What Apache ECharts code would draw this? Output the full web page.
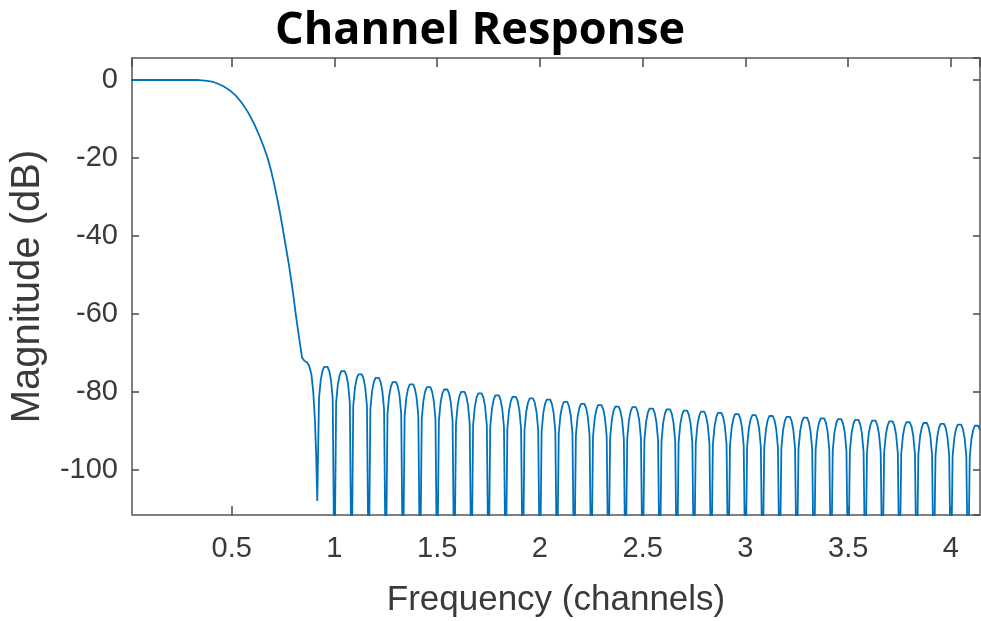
<!DOCTYPE html>
<html>
<head>
<meta charset="utf-8">
<script src="https://cdn.jsdelivr.net/npm/echarts@6/dist/echarts.min.js"></script>
<style>
html,body{margin:0;padding:0;background:#fff;}
#chart{width:981px;height:621px;}
</style>
</head>
<body>
<div id="chart"></div>
<script>
// ---- Data ----
const titleText = 'Channel Response';
const xName = 'Frequency (channels)';
const yName = 'Magnitude (dB)';

// Main lobe (passband + transition), explicit points
const mainFreq = [0, 0.34, 0.38, 0.41, 0.43, 0.46, 0.49, 0.52, 0.55, 0.58, 0.61, 0.635, 0.655, 0.675, 0.692, 0.708, 0.722, 0.735, 0.746, 0.756, 0.778, 0.797, 0.813, 0.829, 0.843, 0.855, 0.866, 0.877, 0.888, 0.897, 0.905, 0.911];
const mainMag  = [0, 0, -0.2, -0.5, -0.9, -1.6, -2.6, -4.0, -5.9, -8.3, -11.3, -14.3, -17.0, -20.0, -23.3, -26.9, -30.5, -34.0, -37.3, -40.4, -47.2, -54.0, -60.5, -66.5, -71.3, -72.1, -72.4, -73.3, -75.5, -80.0, -87.0, -96.0];

// Stopband sidelobes, sampled every 1/120 channel starting at 11/12 channel
const sideStart = 11 / 12;
const sideStep = 1 / 120;
const sideMag = [
  -108, -81.7, -77.0, -74.7, -73.6, -73.2, -73.6, -74.7, -77.0, -81.7,
  -130, -82.8, -78.1, -75.8, -74.7, -74.3, -74.7, -75.8, -78.1, -82.8,
  -130, -83.6, -78.9, -76.6, -75.5, -75.1, -75.5, -76.6, -78.9, -83.6,
  -130, -84.5, -79.8, -77.5, -76.4, -76.0, -76.4, -77.5, -79.8, -84.5,
  -130, -85.6, -80.9, -78.6, -77.5, -77.1, -77.5, -78.6, -80.9, -85.6,
  -130, -86.2, -81.5, -79.2, -78.1, -77.7, -78.1, -79.2, -81.5, -86.2,
  -130, -86.9, -82.2, -79.9, -78.8, -78.4, -78.8, -79.9, -82.2, -86.9,
  -130, -87.5, -82.8, -80.5, -79.4, -79.0, -79.4, -80.5, -82.8, -87.5,
  -130, -88.1, -83.4, -81.1, -80.0, -79.6, -80.0, -81.1, -83.4, -88.1,
  -130, -88.5, -83.8, -81.5, -80.4, -80.0, -80.4, -81.5, -83.8, -88.5,
  -130, -89.0, -84.3, -82.0, -80.9, -80.5, -80.9, -82.0, -84.3, -89.0,
  -130, -89.4, -84.7, -82.4, -81.3, -80.9, -81.3, -82.4, -84.7, -89.4,
  -130, -89.8, -85.1, -82.8, -81.7, -81.3, -81.7, -82.8, -85.1, -89.8,
  -130, -90.1, -85.4, -83.1, -82.0, -81.6, -82.0, -83.1, -85.4, -90.1,
  -130, -90.7, -86.0, -83.7, -82.6, -82.2, -82.6, -83.7, -86.0, -90.7,
  -130, -91.2, -86.5, -84.2, -83.1, -82.7, -83.1, -84.2, -86.5, -91.2,
  -130, -91.5, -86.8, -84.5, -83.4, -83.0, -83.4, -84.5, -86.8, -91.5,
  -130, -91.9, -87.2, -84.9, -83.8, -83.4, -83.8, -84.9, -87.2, -91.9,
  -130, -92.0, -87.3, -85.0, -83.9, -83.5, -83.9, -85.0, -87.3, -92.0,
  -130, -92.4, -87.7, -85.4, -84.3, -83.9, -84.3, -85.4, -87.7, -92.4,
  -130, -92.6, -87.9, -85.6, -84.5, -84.1, -84.5, -85.6, -87.9, -92.6,
  -130, -92.9, -88.2, -85.9, -84.8, -84.4, -84.8, -85.9, -88.2, -92.9,
  -130, -93.2, -88.5, -86.2, -85.1, -84.7, -85.1, -86.2, -88.5, -93.2,
  -130, -93.5, -88.8, -86.5, -85.4, -85.0, -85.4, -86.5, -88.8, -93.5,
  -130, -93.8, -89.1, -86.8, -85.7, -85.3, -85.7, -86.8, -89.1, -93.8,
  -130, -94.1, -89.4, -87.1, -86.0, -85.6, -86.0, -87.1, -89.4, -94.1,
  -130, -94.3, -89.6, -87.3, -86.2, -85.8, -86.2, -87.3, -89.6, -94.3,
  -130, -94.5, -89.8, -87.5, -86.4, -86.0, -86.4, -87.5, -89.8, -94.5,
  -130, -94.7, -90.0, -87.7, -86.6, -86.2, -86.6, -87.7, -90.0, -94.7,
  -130, -94.9, -90.2, -87.9, -86.8, -86.4, -86.8, -87.9, -90.2, -94.9,
  -130, -95.1, -90.4, -88.1, -87.0, -86.6, -87.0, -88.1, -90.4, -95.1,
  -130, -95.3, -90.6, -88.3, -87.2, -86.8, -87.2, -88.3, -90.6, -95.3,
  -130, -95.5, -90.8, -88.5, -87.4, -87.0, -87.4, -88.5, -90.8, -95.5,
  -130, -95.7, -91.0, -88.7, -87.6, -87.2, -87.6, -88.7, -91.0, -95.7,
  -130, -95.9, -91.2, -88.9, -87.8, -87.4, -87.8, -88.9, -91.2, -95.9,
  -130, -96.1, -91.4, -89.1, -88.0, -87.6, -88.0, -89.1, -91.4, -96.1,
  -130, -96.3, -91.6, -89.3, -88.2, -87.8, -88.2, -89.3, -91.6, -96.3,
  -130, -96.5, -91.8, -89.5, -88.4, -88.0, -88.4, -89.5, -91.8, -96.5,
  -130, -96.8, -92.1, -89.8, -88.7, -88.3, -88.7, -89.8
];

// Axis ranges
const xMin = 0.015, xMax = 4.1416;
const yMin = -111.6, yMax = 5.65;

// ---- Build series data ----
const curve = [];
for (let i = 0; i < mainFreq.length; i++) curve.push([mainFreq[i], mainMag[i]]);
for (let i = 0; i < sideMag.length; i++) curve.push([sideStart + i * sideStep, sideMag[i]]);

const chart = echarts.init(document.getElementById('chart'), null, {renderer: 'canvas'});
const labelFont = '"Liberation Sans", Arial, Helvetica, sans-serif';
const boxColor = '#808080';
const tickColor = '#4a4a4a';
const textColor = '#3a3a3a';

chart.setOption({
  animation: false,
  backgroundColor: '#fff',
  grid: {left: 132, top: 58, right: 1, bottom: 106, containLabel: false, outerBoundsMode: 'none'},
  graphic: [{
    type: 'text', left: 275, top: 9,
    style: {text: titleText, font: 'bold 45px "Open Sans", "Noto Sans", sans-serif', fill: '#000'}
  }],
  xAxis: [{
    type: 'value', position: 'bottom', min: xMin, max: xMax, splitNumber: 8,
    name: xName, nameLocation: 'middle', nameGap: 68,
    nameTextStyle: {fontFamily: labelFont, fontSize: 35, color: textColor},
    axisLine: {show: true, onZero: false, lineStyle: {color: boxColor, width: 2}},
    axisTick: {show: true, inside: true, length: 9, lineStyle: {color: tickColor, width: 1.5}},
    axisLabel: {show: true, margin: 19, fontFamily: labelFont, fontSize: 29, color: textColor, showMinLabel: false, showMaxLabel: false},
    splitLine: {show: false}
  }, {
    type: 'value', position: 'top', min: xMin, max: xMax, splitNumber: 8,
    axisLine: {show: true, onZero: false, lineStyle: {color: boxColor, width: 2}},
    axisTick: {show: true, inside: true, length: 9, lineStyle: {color: tickColor, width: 1.5}},
    axisLabel: {show: false},
    splitLine: {show: false}
  }],
  yAxis: [{
    type: 'value', position: 'left', min: yMin, max: yMax, splitNumber: 6,
    name: yName, nameLocation: 'middle', nameGap: 84, nameRotate: 90,
    nameTextStyle: {fontFamily: labelFont, fontSize: 40, color: textColor},
    axisLine: {show: true, onZero: false, lineStyle: {color: boxColor, width: 2}},
    axisTick: {show: true, inside: true, length: 7, lineStyle: {color: tickColor, width: 1.5}},
    axisLabel: {show: true, margin: 14, fontFamily: labelFont, fontSize: 29, color: textColor, showMinLabel: false, showMaxLabel: false},
    splitLine: {show: false}
  }, {
    type: 'value', position: 'right', min: yMin, max: yMax, splitNumber: 6,
    axisLine: {show: true, onZero: false, lineStyle: {color: boxColor, width: 2}},
    axisTick: {show: true, inside: true, length: 7, lineStyle: {color: tickColor, width: 1.5}},
    axisLabel: {show: false},
    splitLine: {show: false}
  }],
  series: [{
    type: 'line', xAxisIndex: 0, yAxisIndex: 0,
    data: curve, showSymbol: false, clip: true, smooth: false,
    lineStyle: {color: '#0072BD', width: 1.8},
    emphasis: {disabled: true}
  }]
});
</script>
</body>
</html>
